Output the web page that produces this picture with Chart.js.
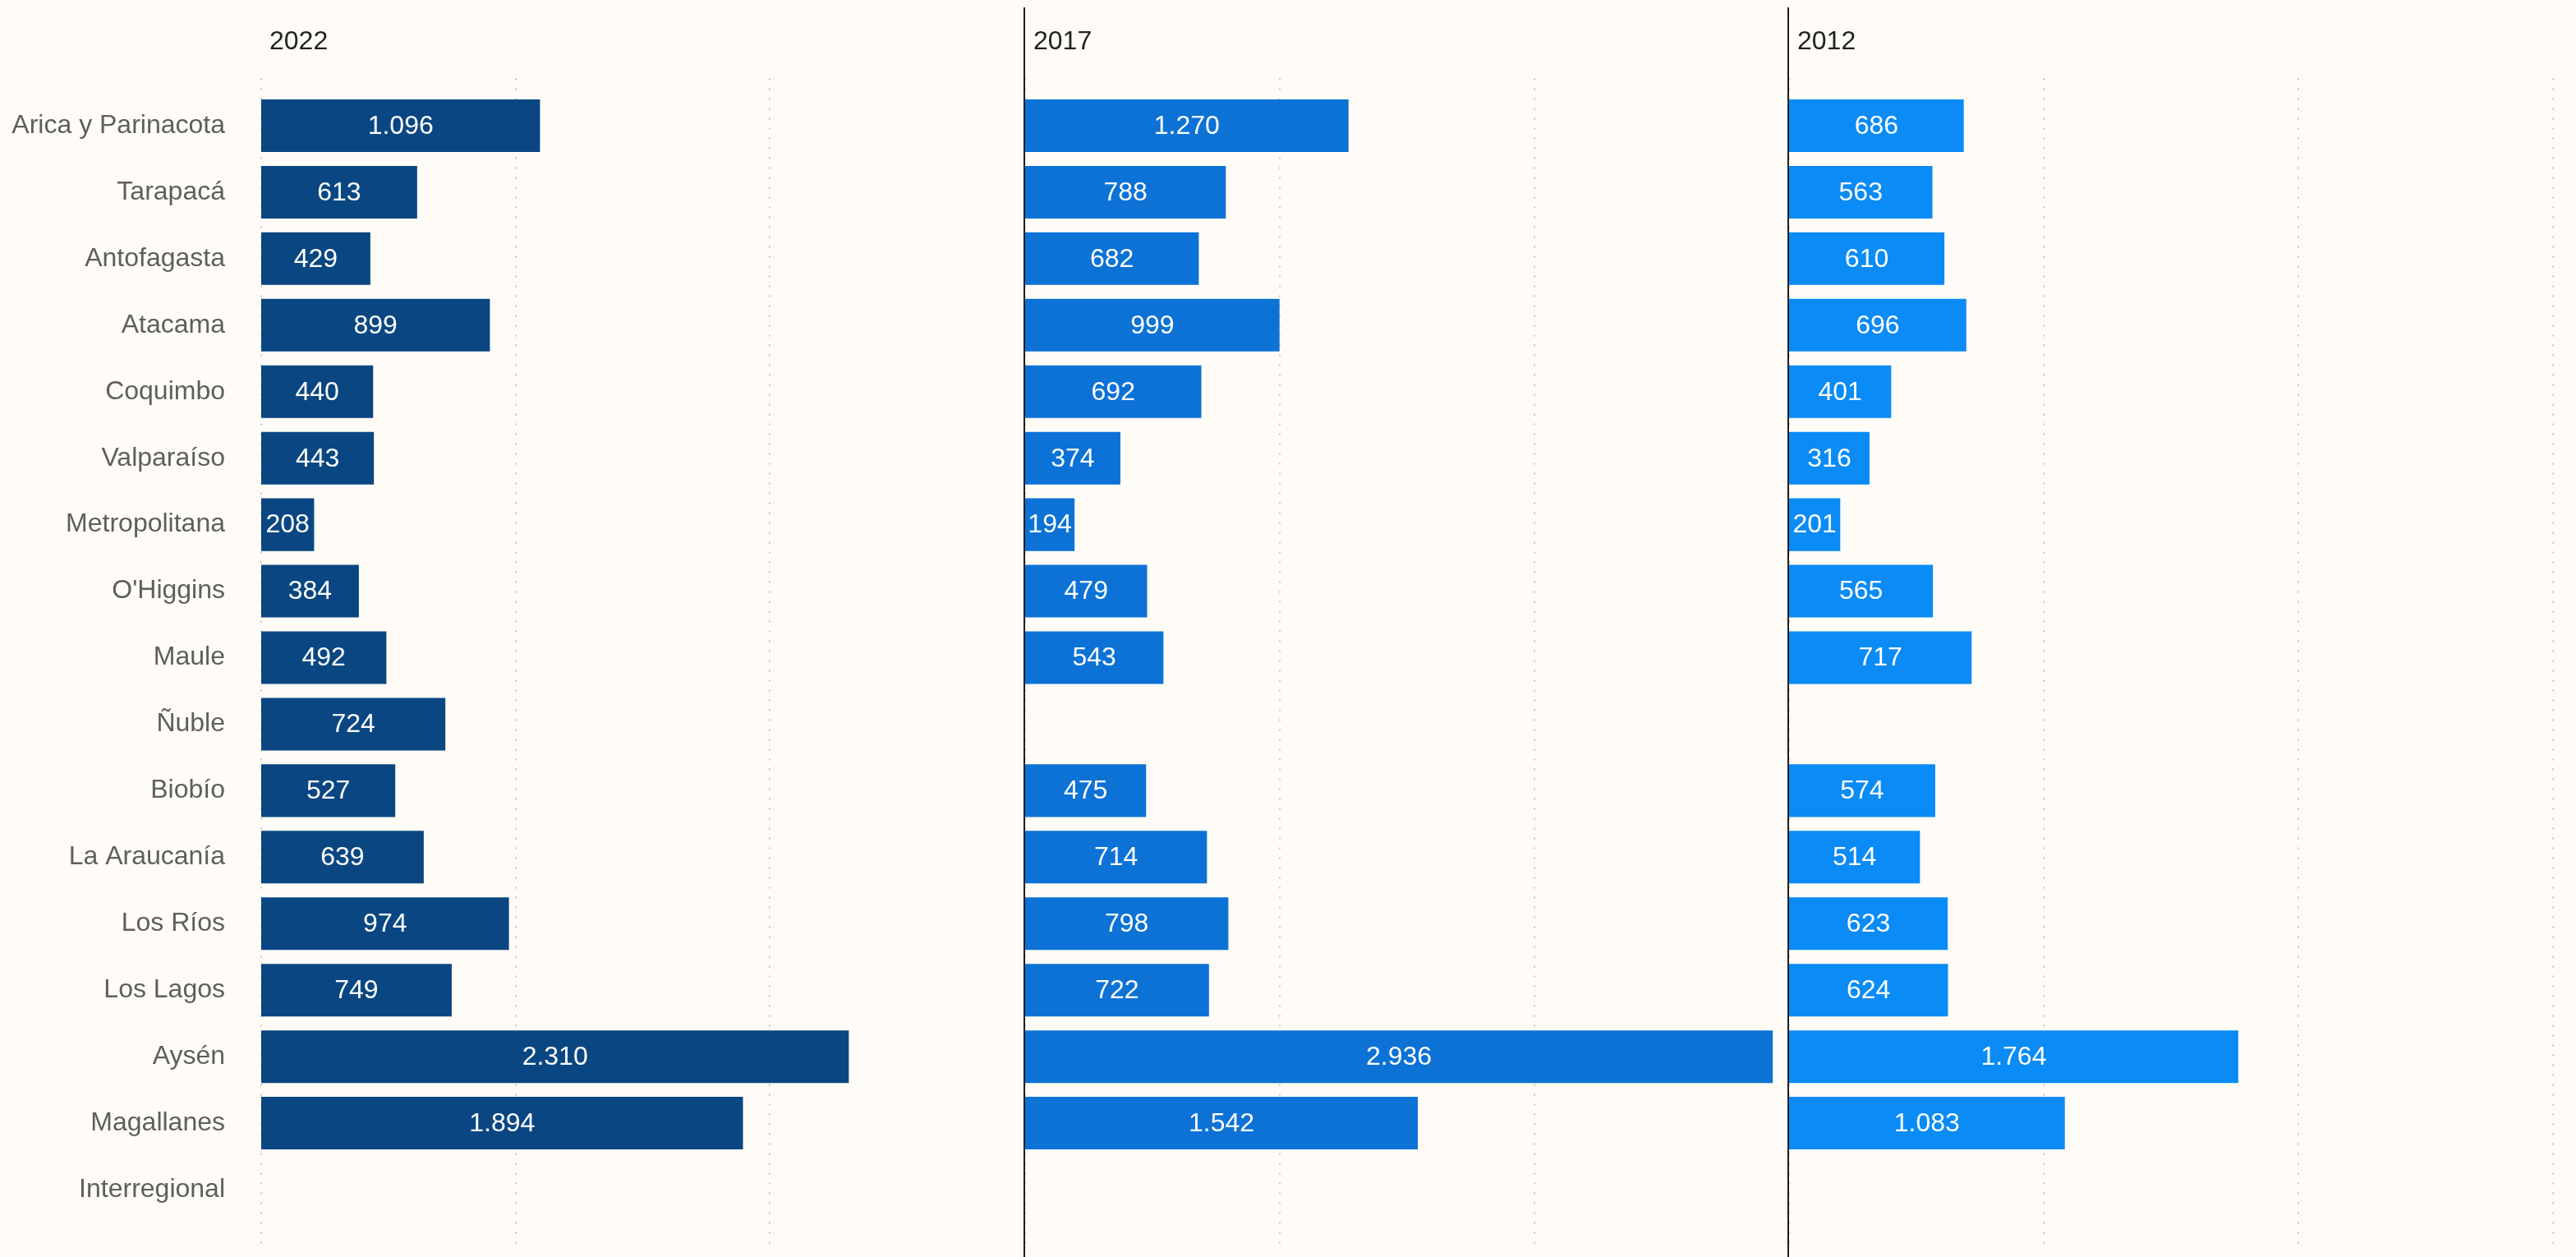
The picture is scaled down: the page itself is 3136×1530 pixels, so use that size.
<!DOCTYPE html>
<html>
<head>
<meta charset="utf-8">
<script src="https://cdn.jsdelivr.net/npm/chart.js@4.4.1/dist/chart.umd.min.js"></script>
<style>
  html, body { margin: 0; padding: 0; background: #fffcf7; }
  body { width: 3136px; height: 1530px; position: relative; overflow: hidden; }
  .panel { position: absolute; top: 0; height: 1530px; }
</style>
</head>
<body>
<div class="panel" style="left:0;width:1250px"><canvas id="chart-2022"></canvas></div>
<div class="panel" style="left:1240px;width:940px"><canvas id="chart-2017"></canvas></div>
<div class="panel" style="left:2170px;width:966px"><canvas id="chart-2012"></canvas></div>
<script>
// ================== Data ==================
const regions = [
  'Arica y Parinacota', 'Tarapacá', 'Antofagasta', 'Atacama', 'Coquimbo', 'Valparaíso',
  'Metropolitana', "O'Higgins", 'Maule', 'Ñuble', 'Biobío', 'La Araucanía', 'Los Ríos',
  'Los Lagos', 'Aysén', 'Magallanes', 'Interregional'
];
const values2022 = [1096, 613, 429, 899, 440, 443, 208, 384, 492, 724, 527, 639, 974, 749, 2310, 1894, null];
const values2017 = [1270, 788, 682, 999, 692, 374, 194, 479, 543, null, 475, 714, 798, 722, 2936, 1542, null];
const values2012 = [686, 563, 610, 696, 401, 316, 201, 565, 717, null, 574, 514, 623, 624, 1764, 1083, null];
const gridTicks = [0, 1000, 2000, 3000];

const FONT = 'Liberation Sans, Arial, Helvetica, sans-serif';

function fmt(v) {
  return String(v).replace(/\B(?=(\d{3})+(?!\d))/g, '.');
}

// ================== Plugins ==================
// dotted vertical grid, a bit taller than the plotting area
const DotGridPlugin = {
  id: 'dotGrid',
  beforeDatasetsDraw(chart) {
    const { ctx, chartArea: area, scales: { x } } = chart;
    ctx.save();
    ctx.strokeStyle = '#c6c6c6';
    ctx.lineWidth = 2;
    ctx.setLineDash([2, 10]);
    gridTicks.forEach(t => {
      const px = Math.round(x.getPixelForValue(t));
      ctx.beginPath();
      ctx.moveTo(px, area.top - 17);
      ctx.lineTo(px, area.bottom + 25);
      ctx.stroke();
    });
    ctx.restore();
  }
};

// year title + optional dark separator line at x=0
const PanelDecorPlugin = {
  id: 'panelDecor',
  afterDraw(chart, args, opts) {
    const { ctx, scales: { x } } = chart;
    const x0 = x.getPixelForValue(0);
    ctx.save();
    if (opts.separator) {
      ctx.strokeStyle = '#1e1e1e';
      ctx.lineWidth = 2;
      ctx.beginPath();
      ctx.moveTo(x0 - 1, 9);
      ctx.lineTo(x0 - 1, chart.height);
      ctx.stroke();
    }
    ctx.font = '32px ' + FONT;
    ctx.fillStyle = '#222222';
    ctx.textAlign = 'left';
    ctx.textBaseline = 'middle';
    ctx.fillText(opts.title, x0 + 10, 51);
    ctx.restore();
  }
};

// white value labels centred inside the bars
const BarValuePlugin = {
  id: 'barValues',
  afterDatasetsDraw(chart) {
    const { ctx } = chart;
    const meta = chart.getDatasetMeta(0);
    const data = chart.data.datasets[0].data;
    ctx.save();
    ctx.font = '32px ' + FONT;
    ctx.fillStyle = '#ffffff';
    ctx.textAlign = 'center';
    ctx.textBaseline = 'middle';
    meta.data.forEach((bar, i) => {
      if (data[i] == null) return;
      ctx.fillText(fmt(data[i]), (bar.x + bar.base) / 2, bar.y + 1);
    });
    ctx.restore();
  }
};

// ================== Charts ==================
function makePanel(id, title, values, color, cfg) {
  new Chart(document.getElementById(id), {
    type: 'bar',
    plugins: [DotGridPlugin, PanelDecorPlugin, BarValuePlugin],
    data: {
      labels: regions,
      datasets: [{
        data: values,
        backgroundColor: color,
        borderWidth: 0,
        barPercentage: 0.791,
        categoryPercentage: 1
      }]
    },
    options: {
      indexAxis: 'y',
      responsive: true,
      maintainAspectRatio: false,
      animation: false,
      layout: { padding: { top: 112.5, bottom: 41.5, left: cfg.padLeft, right: cfg.padRight } },
      plugins: {
        legend: { display: false },
        tooltip: { enabled: false },
        panelDecor: { title: title, separator: cfg.separator }
      },
      scales: {
        x: { display: false, min: 0, max: 3000 },
        y: {
          display: cfg.showLabels,
          grid: { display: false },
          border: { display: false },
          ticks: { color: '#5e5e5e', font: { family: FONT, size: 32 }, padding: 36 },
          afterFit(scale) {
            if (cfg.showLabels) scale.width = 318;
            scale.paddingTop = 0;
            scale.paddingBottom = 0;
          }
        }
      }
    }
  });
}

makePanel('chart-2022', '2022', values2022, '#0a4782', { showLabels: true, separator: false, padLeft: 0, padRight: 3 });
makePanel('chart-2017', '2017', values2017, '#0c72d6', { showLabels: false, separator: true, padLeft: 8, padRight: 2 });
makePanel('chart-2012', '2012', values2012, '#0a8bf5', { showLabels: false, separator: true, padLeft: 8, padRight: 28 });
</script>
</body>
</html>
